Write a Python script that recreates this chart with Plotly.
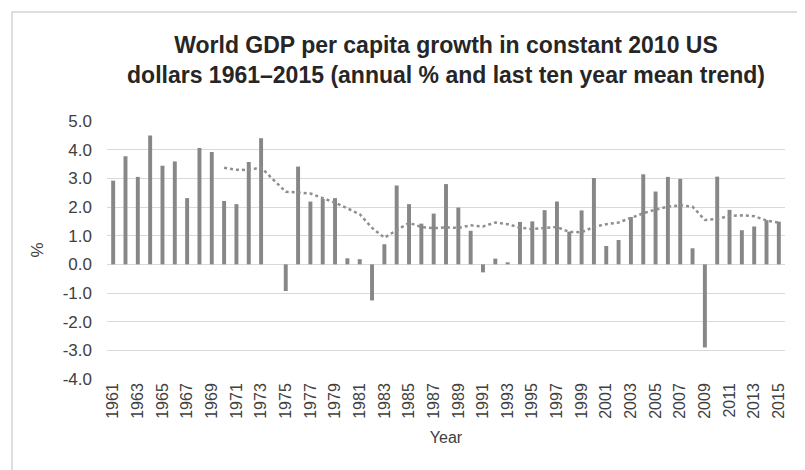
import plotly.graph_objects as go

years = list(range(1961, 2016))
growth = [2.92, 3.77, 3.05, 4.49, 3.44, 3.59, 2.31, 4.06, 3.92, 2.21,
          2.10, 3.57, 4.40, 0.00, -0.93, 3.41, 2.19, 2.28, 2.31, 0.21,
          0.18, -1.26, 0.70, 2.75, 2.10, 1.42, 1.77, 2.80, 1.98, 1.17,
          -0.28, 0.20, 0.07, 1.48, 1.50, 1.89, 2.19, 1.14, 1.88, 3.01,
          0.64, 0.85, 1.65, 3.14, 2.54, 3.05, 2.98, 0.56, -2.90, 3.06,
          1.90, 1.19, 1.32, 1.54, 1.49]
trend = [None] * 9 + [3.37, 3.30, 3.29, 3.38, 2.95, 2.53, 2.51, 2.47, 2.31, 2.15,
                      1.95, 1.75, 1.27, 0.93, 1.19, 1.45, 1.30, 1.26, 1.29, 1.27,
                      1.36, 1.32, 1.46, 1.40, 1.28, 1.23, 1.27, 1.30, 1.13, 1.12,
                      1.31, 1.40, 1.46, 1.62, 1.78, 1.91, 2.01, 2.06, 2.01, 1.55,
                      1.58, 1.69, 1.71, 1.68, 1.53, 1.45]
tick_years = list(range(1961, 2016, 2))
tick_labels = [str(y) for y in tick_years]
y_ticks = [-4, -3, -2, -1, 0, 1, 2, 3, 4, 5]
y_labels = ["-4.0", "-3.0", "-2.0", "-1.0", "0.0", "1.0", "2.0", "3.0", "4.0", "5.0"]

title_text = ("World GDP per capita growth in constant 2010 US<br>"
              "dollars 1961–2015 (annual % and last ten year mean trend)")

fig = go.Figure()
fig.add_trace(go.Bar(x=years, y=growth, marker=dict(color="#878787", line=dict(width=0)),
                     name="annual %", showlegend=False))
fig.add_trace(go.Scatter(x=years, y=trend, mode="lines",
                         line=dict(color="#8f8f8f", width=2.5, dash="dot"),
                         name="trend", showlegend=False, connectgaps=False))

W, H = 805, 470
L, R, T, B = 99, 28, 113, 99
pw, ph = W - L - R, H - T - B

fig.update_layout(
    width=W, height=H,
    margin=dict(l=L, r=R, t=T, b=B, pad=0),
    paper_bgcolor="white", plot_bgcolor="white",
    bargap=0.68,
    font=dict(family="Liberation Sans, Arial, sans-serif", color="#404040"),
    title=dict(text=title_text, x=(L + pw / 2) / W, xanchor="center",
               y=1 - 45 / H, yanchor="middle", yref="container",
               font=dict(size=23, color="#262626", family="Liberation Sans, Arial, sans-serif",
                         weight="bold")),
    xaxis=dict(range=[1960.5, 2015.5], tickmode="array", tickvals=tick_years,
               ticktext=tick_labels, tickangle=-90, tickfont=dict(size=16, color="#404040"),
               showgrid=False, zeroline=False, showline=False, ticks="",
               title=dict(text="Year", font=dict(size=16, color="#404040"), standoff=14)),
    yaxis=dict(range=[-4, 5], tickmode="array", tickvals=y_ticks, ticktext=y_labels,
               tickfont=dict(size=17, color="#404040"),
               showgrid=True, gridcolor="#d9d9d9", gridwidth=1,
               zeroline=True, zerolinecolor="#d9d9d9", zerolinewidth=1,
               showline=False, ticks="", ticklabelstandoff=14,
               title=dict(text="%", font=dict(size=17, color="#404040"), standoff=14)),
    shapes=[dict(type="rect", xref="paper", yref="paper",
                 x0=(4 - L) / pw, x1=(804 - L) / pw,
                 y0=(H - B - 469) / ph, y1=(H - B - 4) / ph,
                 line=dict(color="#d4d4d4", width=1.5), fillcolor="rgba(0,0,0,0)",
                 layer="below")],
)

fig.write_html("out.html")
